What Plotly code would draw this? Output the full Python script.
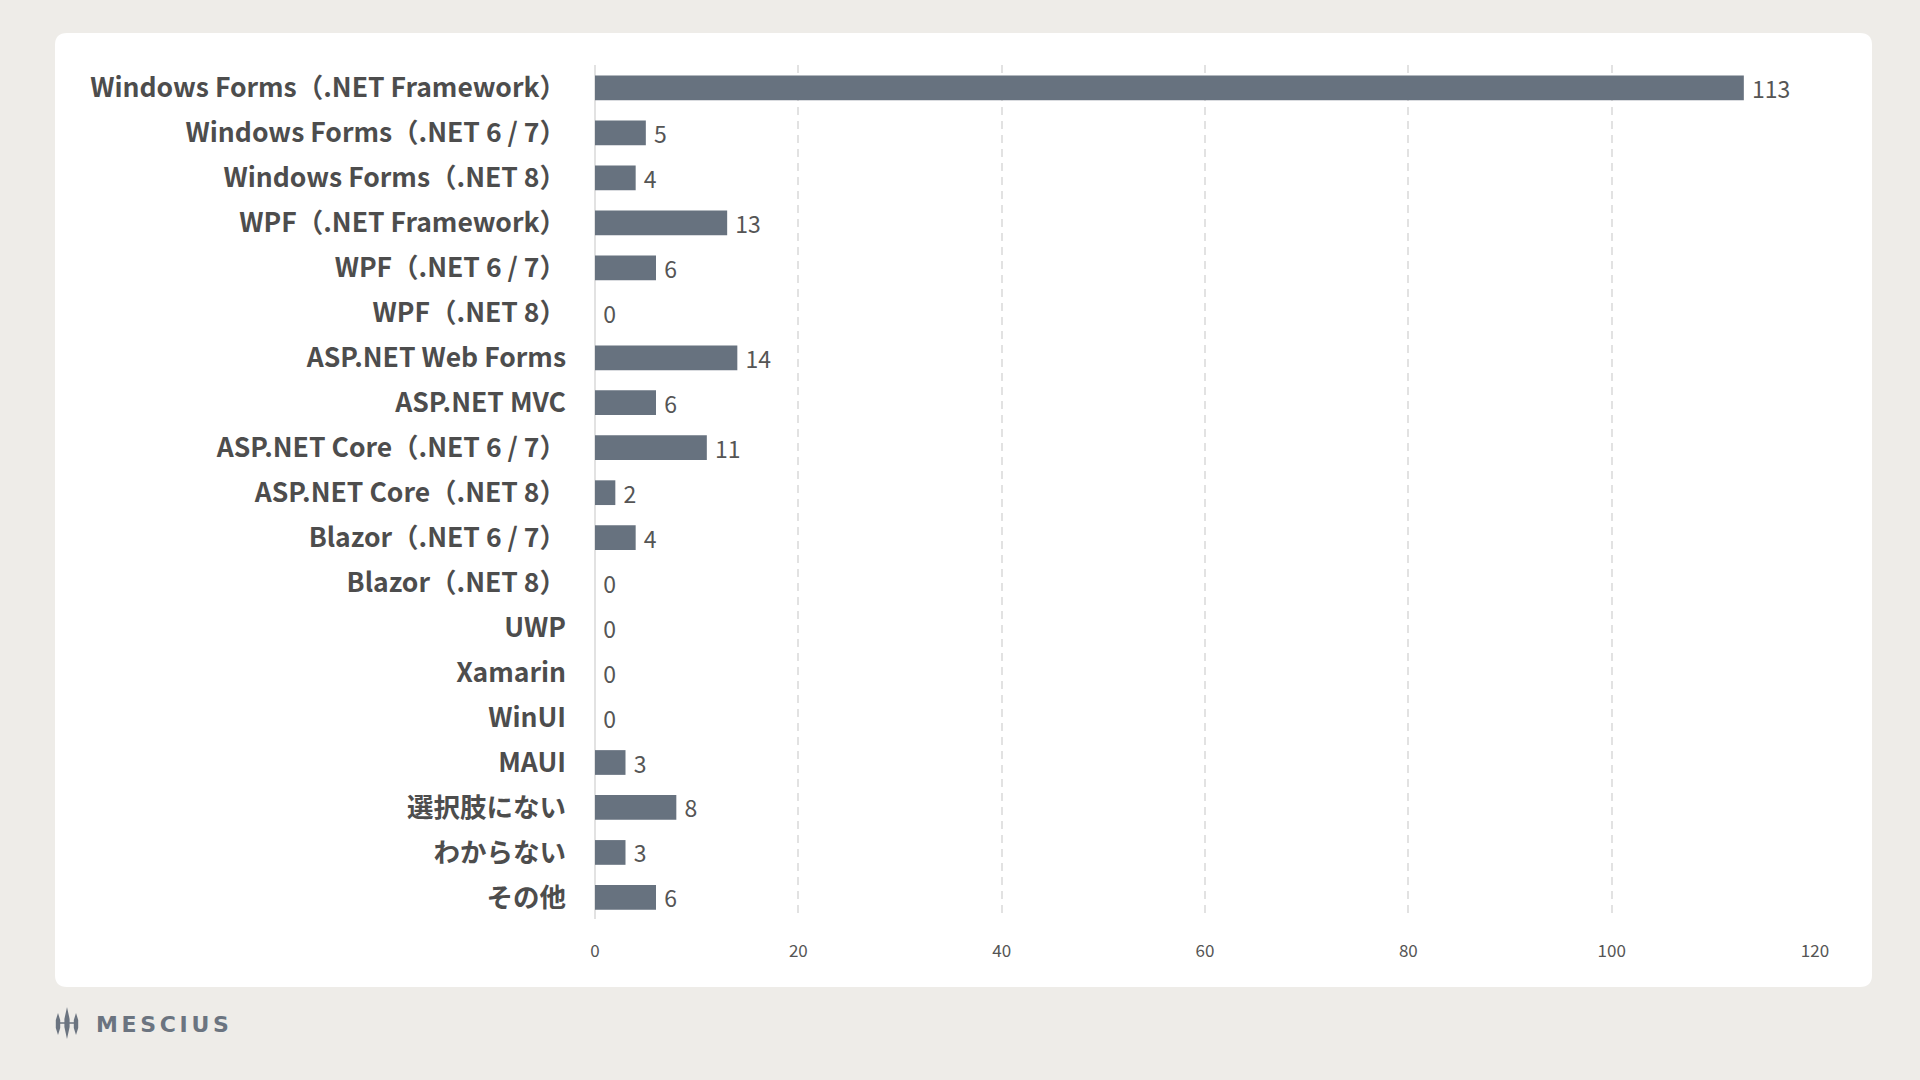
import plotly.graph_objects as go

categories = [
    "Windows Forms（.NET Framework）",
    "Windows Forms（.NET 6 / 7）",
    "Windows Forms（.NET 8）",
    "WPF（.NET Framework）",
    "WPF（.NET 6 / 7）",
    "WPF（.NET 8）",
    "ASP.NET Web Forms",
    "ASP.NET MVC",
    "ASP.NET Core（.NET 6 / 7）",
    "ASP.NET Core（.NET 8）",
    "Blazor（.NET 6 / 7）",
    "Blazor（.NET 8）",
    "UWP",
    "Xamarin",
    "WinUI",
    "MAUI",
    "選択肢にない",
    "わからない",
    "その他",
]
values = [113, 5, 4, 13, 6, 0, 14, 6, 11, 2, 4, 0, 0, 0, 0, 3, 8, 3, 6]
x_ticks = [0, 20, 40, 60, 80, 100, 120]

W, H = 1920, 1080
PL, PR, PT, PB = 595, 1815, 65, 919
FONT = "Noto Sans CJK JP, Noto Sans, sans-serif"
BAR = "#67727f"
BG = "#eeece8"

def px(x):
    return (x - PL) / (PR - PL)

def py(y):
    return (PB - y) / (PB - PT)

fig = go.Figure(go.Bar(
    x=values, y=categories, orientation="h",
    marker=dict(color=BAR, line=dict(width=0)),
    width=0.55,
    texttemplate=" %{x}", textposition="outside",
    constraintext="none",
    textfont=dict(family=FONT, size=23, color="#555555"),
    cliponaxis=False, hoverinfo="x+y",
))

# rounded card
x0, x1, y0, y1, r = 55, 1872, 33, 987, 12
path = (f"M {px(x0+r)},{py(y0)} L {px(x1-r)},{py(y0)} "
        f"Q {px(x1)},{py(y0)} {px(x1)},{py(y0+r)} L {px(x1)},{py(y1-r)} "
        f"Q {px(x1)},{py(y1)} {px(x1-r)},{py(y1)} L {px(x0+r)},{py(y1)} "
        f"Q {px(x0)},{py(y1)} {px(x0)},{py(y1-r)} L {px(x0)},{py(y0+r)} "
        f"Q {px(x0)},{py(y0)} {px(x0+r)},{py(y0)} Z")
shapes = [dict(type="path", path=path, xref="paper", yref="paper",
               fillcolor="white", line=dict(width=0), layer="below")]

# logo icon: three spindles
LOGO = "#6b7480"
for cx, ya, yb, hw in [(58, 1013, 1035, 2.2), (67, 1007, 1039, 2.6), (76, 1013, 1035, 2.2)]:
    ym = (ya + yb) / 2
    d = (f"M {px(cx)},{py(ya)} L {px(cx+hw)},{py(ym-4)} L {px(cx+hw)},{py(ym+4)} "
         f"L {px(cx)},{py(yb)} L {px(cx-hw)},{py(ym+4)} L {px(cx-hw)},{py(ym-4)} Z")
    shapes.append(dict(type="path", path=d, xref="paper", yref="paper",
                       fillcolor=LOGO, line=dict(width=0)))
shapes.append(dict(type="line", xref="paper", yref="paper",
                   x0=px(58), x1=px(76), y0=py(1023), y1=py(1023),
                   line=dict(color=LOGO, width=1.5)))

fig.update_layout(
    width=W, height=H,
    margin=dict(l=PL, r=W - PR, t=PT, b=H - PB, pad=0),
    paper_bgcolor=BG, plot_bgcolor="rgba(0,0,0,0)",
    showlegend=False,
    shapes=shapes,
    font=dict(family=FONT),
    xaxis=dict(
        range=[0, 120], tickvals=x_ticks, showgrid=True,
        gridcolor="#e2e2e2", gridwidth=1.5, griddash="8px,6px",
        zeroline=True, zerolinecolor="#e2e2e2", zerolinewidth=1.5,
        showline=False, ticks="",
        tickfont=dict(family=FONT, size=17, color="#555555"),
        ticklabelstandoff=20, fixedrange=True,
    ),
    yaxis=dict(
        categoryorder="array", categoryarray=categories,
        range=[18.48, -0.51], showgrid=False, zeroline=False, showline=False,
        ticks="", ticklabelstandoff=28, fixedrange=True,
        tickfont=dict(family=FONT, size=26.5, color="#4d4d4d", weight="bold"),
    ),
    annotations=[dict(
        text="<b>M\u2006E\u2006S\u2006C\u2006I\u2006U\u2006S</b>", xref="paper", yref="paper",
        x=px(94), y=py(1024), xanchor="left", yanchor="middle",
        showarrow=False, font=dict(family="DejaVu Sans, sans-serif", size=22, color=LOGO),
    )],
)

fig.write_html(
    "out.html",
    config={"displayModeBar": False},
    post_script=f"document.body.style.margin='0';document.body.style.background='{BG}';",
)
